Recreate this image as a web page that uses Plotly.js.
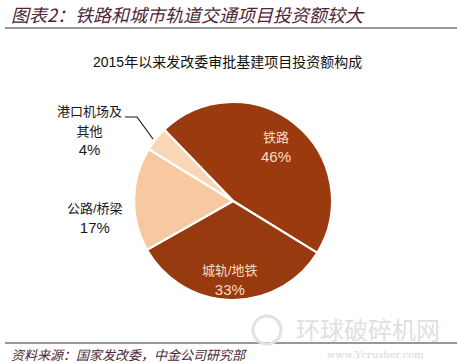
<!DOCTYPE html>
<html><head><meta charset="utf-8">
<script src="https://cdn.plot.ly/plotly-3.0.1.min.js"></script>
<style>html,body{margin:0;padding:0;background:#fff}#chart{width:457px;height:363px}</style>
</head><body><div id="chart"></div>
<script>
const categories = ['铁路', '城轨/地铁', '公路/桥梁', '港口机场及<br>其他'];
const shares = [46, 33, 17, 4];
const sliceColors = ['#9b3a0e', '#983a10', '#f8c8a0', '#f9d6b6'];
const headerText = '图表2：铁路和城市轨道交通项目投资额较大';
const chartTitle = '2015年以来发改委审批基建项目投资额构成';
const sourceText = '资料来源：国家发改委，中金公司研究部';

const W = 457, H = 363;
const cx = 233, cy = 201, r = 99;
const cjk = '"Noto Sans CJK SC", sans-serif';
const mixed = '"Liberation Sans", "Noto Sans CJK SC", sans-serif';

// label placement (pixels from top-left), layout only
const labelPos = [[276, 147], [230, 280], [95, 218], [89, 131]];
const labelInside = [true, true, false, false];

const trace = {
  type: 'pie',
  labels: categories,
  values: shares,
  sort: false,
  direction: 'clockwise',
  rotation: -44,
  marker: {colors: sliceColors, line: {color: '#ffffff', width: 2.2}},
  textinfo: 'none',
  hoverinfo: 'none',
  showlegend: false,
  domain: {x: [(cx - r) / W, (cx + r) / W], y: [(H - cy - r) / H, (H - cy + r) / H]}
};

const px = x => x / W, py = y => 1 - y / H;

const total = shares.reduce((a, b) => a + b, 0);
const labelAnns = categories.map((c, i) => ({
  text: '<span style="font-size:13px">' + c + '</span><br>' + Math.round(shares[i] / total * 100) + '%',
  xref: 'paper', yref: 'paper', x: px(labelPos[i][0]), y: py(labelPos[i][1]),
  xanchor: 'center', yanchor: 'middle', showarrow: false, align: 'center',
  font: {family: mixed, size: 15, color: labelInside[i] ? '#f7dcc3' : '#1a1a1a'}
}));

const layout = {
  width: W, height: H,
  margin: {l: 0, r: 0, t: 0, b: 0},
  paper_bgcolor: '#ffffff',
  showlegend: false,
  shapes: [
    {type: 'line', xref: 'paper', yref: 'paper', x0: px(5), x1: 1, y0: py(28), y1: py(28), line: {color: '#333333', width: 1.2}},
    {type: 'line', xref: 'paper', yref: 'paper', x0: px(5), x1: 1, y0: py(343), y1: py(343), line: {color: '#333333', width: 1}},
    {type: 'path', xref: 'paper', yref: 'paper',
     path: 'M ' + px(125) + ',' + py(117) + ' L ' + px(137) + ',' + py(117) + ' L ' + px(153) + ',' + py(139),
     line: {color: '#1a1a1a', width: 1.2}},
    {type: 'circle', xref: 'paper', yref: 'paper', x0: px(253), x1: px(281), y0: py(344), y1: py(316),
     line: {color: '#e2e2e2', width: 3}}
  ],
  annotations: labelAnns.concat([
    {text: '<i>' + headerText + '</i>', xref: 'paper', yref: 'paper', x: px(9), y: py(14), xanchor: 'left', yanchor: 'middle', showarrow: false,
     font: {family: cjk, size: 18, color: '#4e2636'}},
    {text: chartTitle, xref: 'paper', yref: 'paper', x: px(227), y: py(62), xanchor: 'center', yanchor: 'middle', showarrow: false,
     font: {family: mixed, size: 14, color: '#111111'}},
    {text: '<i>' + sourceText + '</i>', xref: 'paper', yref: 'paper', x: px(9), y: py(354), xanchor: 'left', yanchor: 'middle', showarrow: false,
     font: {family: cjk, size: 13, color: '#4e2636'}},
    {text: '环球破碎机网', xref: 'paper', yref: 'paper', x: px(368), y: py(328), xanchor: 'center', yanchor: 'middle', showarrow: false,
     font: {family: cjk, size: 24, color: '#e0e0e0'}},
    {text: 'www.Ycrusher.com', xref: 'paper', yref: 'paper', x: px(375), y: py(354), xanchor: 'center', yanchor: 'middle', showarrow: false,
     font: {family: 'DejaVu Serif, serif', size: 10, color: '#d8d8d8'}}
  ])
};

Plotly.newPlot('chart', [trace], layout, {staticPlot: true, displayModeBar: false});
</script>
</body></html>
